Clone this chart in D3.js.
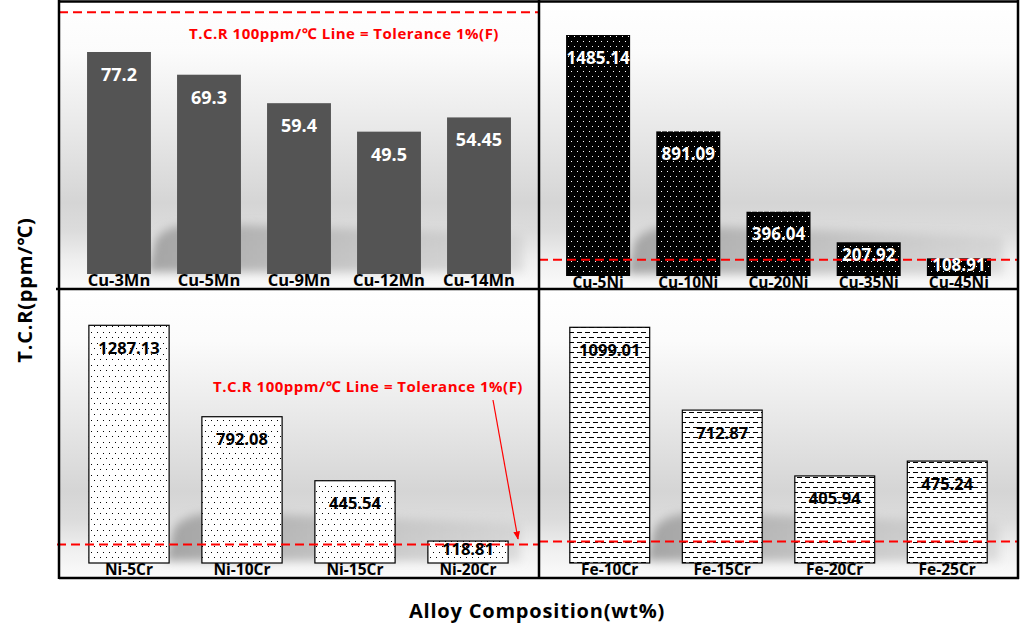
<!DOCTYPE html>
<html><head><meta charset="utf-8">
<script src="https://cdn.jsdelivr.net/npm/d3@7"></script>
<style>
html,body{margin:0;padding:0;background:#fff;}
svg{display:block;font-family:"Open Sans","Noto Sans","Noto Sans CJK KR",sans-serif;font-weight:700;}
</style></head>
<body>
<svg id="chart" width="1020" height="639"></svg>
<script>
// ---- data ----
const mnCategories = ["Cu-3Mn", "Cu-5Mn", "Cu-9Mn", "Cu-12Mn", "Cu-14Mn"];
const mnValues = [77.2, 69.3, 59.4, 49.5, 54.45];
const niCategories = ["Cu-5Ni", "Cu-10Ni", "Cu-20Ni", "Cu-35Ni", "Cu-45Ni"];
const niValues = [1485.14, 891.09, 396.04, 207.92, 108.91];
const crCategories = ["Ni-5Cr", "Ni-10Cr", "Ni-15Cr", "Ni-20Cr"];
const crValues = [1287.13, 792.08, 445.54, 118.81];
const feCategories = ["Fe-10Cr", "Fe-15Cr", "Fe-20Cr", "Fe-25Cr"];
const feValues = [1099.01, 712.87, 405.94, 475.24];
// tolerance line value per panel (the Cu-Mn panel shows it at the top of its frame)
const toleranceValues = [91, 100, 100, 100];
const annotationText = "T.C.R 100ppm/\u2103 Line = Tolerance 1%(F)";
const yTitle = "T.C.R(ppm/\u2103)";
const xTitle = "Alloy Composition(wt%)";

const svg = d3.select("#chart");
const defs = svg.append("defs");

// background gradient
const bg = defs.append("linearGradient").attr("id","bgGrad").attr("x1",0).attr("y1",0).attr("x2",0).attr("y2",1);
[[0,"#ffffff"],[0.18,"#fbfbfb"],[0.45,"#e8e8e8"],[0.7,"#d5d5d5"],[0.8,"#dcdcdc"],[0.9,"#efefef"],[1,"#fbfbfb"]]
  .forEach(([o,c])=>bg.append("stop").attr("offset",o).attr("stop-color",c));
const sh = defs.append("linearGradient").attr("id","shGrad").attr("x1",0).attr("y1",0).attr("x2",1).attr("y2",0);
[[0,"#a0a0a0",0.95],[0.5,"#b5b5b5",0.75],[1,"#c8c8c8",0.55]].forEach(([o,c,a])=>sh.append("stop").attr("offset",o).attr("stop-color",c).attr("stop-opacity",a));
defs.append("filter").attr("id","blur").attr("x","-20%").attr("y","-50%").attr("width","140%").attr("height","200%")
  .append("feGaussianBlur").attr("stdDeviation",5);

// patterns
const pDotW = defs.append("pattern").attr("id","dotsWhite").attr("patternUnits","userSpaceOnUse").attr("width",6).attr("height",10);
pDotW.append("rect").attr("width",6).attr("height",10).attr("fill","#000");
pDotW.append("rect").attr("x",1).attr("y",1).attr("width",1).attr("height",1).attr("fill","#fff");
pDotW.append("rect").attr("x",4).attr("y",6).attr("width",1).attr("height",1).attr("fill","#fff");

const pDotB = defs.append("pattern").attr("id","dotsBlack").attr("patternUnits","userSpaceOnUse").attr("width",6).attr("height",11);
pDotB.append("rect").attr("width",6).attr("height",11).attr("fill","#fff");
pDotB.append("rect").attr("x",1).attr("y",2).attr("width",1).attr("height",1).attr("fill","#000");
pDotB.append("rect").attr("x",4).attr("y",7).attr("width",1).attr("height",1).attr("fill","#000");

const pDash = defs.append("pattern").attr("id","dashes").attr("patternUnits","userSpaceOnUse").attr("width",8).attr("height",10);
pDash.append("rect").attr("width",8).attr("height",10).attr("fill","#fff");
pDash.append("rect").attr("x",1).attr("y",2).attr("width",5).attr("height",1).attr("fill","#000");
pDash.append("rect").attr("x",5).attr("y",7).attr("width",3).attr("height",1).attr("fill","#000");
pDash.append("rect").attr("x",0).attr("y",7).attr("width",2).attr("height",1).attr("fill","#000");

const arrow = defs.append("marker").attr("id","arrow").attr("viewBox","0 0 10 10").attr("refX",9).attr("refY",5)
  .attr("markerWidth",7).attr("markerHeight",7).attr("orient","auto-start-reverse");
arrow.append("path").attr("d","M0,1 L10,5 L0,9 Z").attr("fill","#ff0000");

const panels = [
  {cats:mnCategories, vals:mnValues, x0:59, x1:539, y0:1, y1:289, base:274, top:52, topVal:77.2,
   band:[74,524], fill:"#545454", stroke:"none", labelColor:"#ffffff", valSize:18, catSize:16.5,
   tol:toleranceValues[0], tolX:[59,541]},
  {cats:niCategories, vals:niValues, x0:539, x1:1018, y0:1, y1:289, base:276, top:35, topVal:1485.14,
   band:[553,1004], fill:"url(#dotsWhite)", stroke:"none", labelColor:"#ffffff", valSize:17, catSize:15.5,
   tol:toleranceValues[1], tolX:[539,1018]},
  {cats:crCategories, vals:crValues, x0:59, x1:539, y0:289, y1:578, base:563, top:325.3, topVal:1287.13,
   band:[72.5,524.5], fill:"url(#dotsBlack)", stroke:"#000", labelColor:"#000000", valSize:16.5, catSize:15.5,
   tol:toleranceValues[2], tolX:[57,539]},
  {cats:feCategories, vals:feValues, x0:539, x1:1018, y0:289, y1:578, base:563, top:327.3, topVal:1099.01,
   band:[553.5,1003.5], fill:"url(#dashes)", stroke:"#000", labelColor:"#000000", valSize:16.5, catSize:15.5,
   tol:toleranceValues[3], tolX:[539,1018]}
];

panels.forEach((p,i)=>{
  const g = svg.append("g");
  g.append("rect").attr("x",p.x0).attr("y",p.y0).attr("width",p.x1-p.x0).attr("height",p.y1-p.y0).attr("fill","url(#bgGrad)");
  const x = d3.scaleBand().domain(p.cats).range(p.band).paddingInner(0.29).paddingOuter(0.145);
  const y = d3.scaleLinear().domain([0,p.topVal]).range([p.base,p.top]);

  // soft shadow behind bars
  const fx = x(p.cats[0]) + x.bandwidth();
  const lx = x(p.cats[p.cats.length-1]) + x.bandwidth() + 12;
  g.append("path")
    .attr("d",`M${fx-4},${p.base-2} L${fx+4},${p.base-34} Q${fx+16},${p.base-52} ${fx+60},${p.base-50} L${lx},${p.base-40} L${lx},${p.base-2} Z`)
    .attr("fill","url(#shGrad)").attr("filter","url(#blur)");

  // bars
  g.selectAll("rect.bar").data(p.vals).join("rect").attr("class","bar")
    .attr("x",(d,j)=>x(p.cats[j])).attr("y",d=>y(d))
    .attr("width",x.bandwidth()).attr("height",d=>p.base-y(d))
    .attr("fill",p.fill).attr("stroke",p.stroke).attr("stroke-width",1.2);

  // tolerance line
  g.append("line").attr("x1",p.tolX[0]).attr("x2",p.tolX[1]).attr("y1",y(p.tol)).attr("y2",y(p.tol))
    .attr("stroke","#ff0000").attr("stroke-width",2).attr("stroke-dasharray","9,5");

  // value labels
  g.selectAll("text.val").data(p.vals).join("text").attr("class","val")
    .attr("x",(d,j)=>x(p.cats[j])+x.bandwidth()/2)
    .attr("y",d=>{const h=p.base-y(d); return y(d)+Math.min(22.5,0.37*h);})
    .attr("dy","0.36em").attr("text-anchor","middle")
    .attr("font-size",p.valSize).attr("fill",p.labelColor).text(d=>d);

  // category labels
  g.selectAll("text.cat").data(p.cats).join("text").attr("class","cat")
    .attr("x",d=>x(d)+x.bandwidth()/2).attr("y",p.base+6.5)
    .attr("dy","0.36em").attr("text-anchor","middle")
    .attr("font-size",p.catSize).attr("fill","#000").text(d=>d);
});

// annotations
svg.append("text").attr("x",189).attr("y",34).attr("dy","0.36em").attr("font-size",15).attr("letter-spacing",0.5)
  .attr("fill","#ff0000").text(annotationText);
svg.append("text").attr("x",213).attr("y",387).attr("dy","0.36em").attr("font-size",15).attr("letter-spacing",0.5)
  .attr("fill","#ff0000").text(annotationText);
svg.append("line").attr("x1",493).attr("y1",400).attr("x2",518).attr("y2",539)
  .attr("stroke","#ff0000").attr("stroke-width",1.2).attr("marker-end","url(#arrow)");

// frame
const frame = svg.append("g").attr("stroke","#000").attr("stroke-width",2.5);
frame.append("line").attr("x1",59).attr("x2",59).attr("y1",0).attr("y2",579);
frame.append("line").attr("x1",59).attr("x2",1019).attr("y1",1.5).attr("y2",1.5);
frame.append("line").attr("x1",56).attr("x2",1019).attr("y1",289).attr("y2",289);
frame.append("line").attr("x1",59).attr("x2",1019).attr("y1",578).attr("y2",578);
frame.append("line").attr("x1",539).attr("x2",539).attr("y1",0).attr("y2",579);
frame.append("line").attr("x1",1018).attr("x2",1018).attr("y1",0).attr("y2",579);

// axis titles
svg.append("text").attr("x",537).attr("y",611).attr("dy","0.36em").attr("text-anchor","middle")
  .attr("font-size",20).attr("letter-spacing",0.8).attr("fill","#000").text(xTitle);
svg.append("text").attr("transform","translate(25,290) rotate(-90)").attr("dy","0.36em").attr("text-anchor","middle")
  .attr("font-size",20).attr("letter-spacing",0.8).attr("fill","#000").text(yTitle);
</script>
</body></html>
